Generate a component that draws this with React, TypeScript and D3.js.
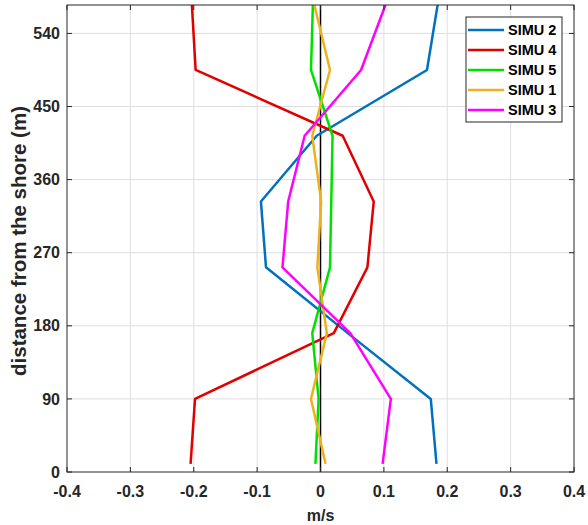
import React, { useEffect, useRef } from 'react'
import * as d3 from 'd3'

// distance from the shore (m) at which each profile is sampled
const depths = [10, 90, 171, 252, 333, 414, 495, 576]

// series names and colours, legend order
const seriesNames = ['SIMU 2', 'SIMU 4', 'SIMU 5', 'SIMU 1', 'SIMU 3']
const seriesColors = ['#0072BD', '#E00000', '#00E000', '#EDB120', '#FF00FF']

// velocities (m/s), one array per series
const simu2 = [0.183, 0.174, 0.043, -0.086, -0.094, -0.006, 0.168, 0.185]
const simu4 = [-0.205, -0.198, 0.021, 0.074, 0.084, 0.035, -0.197, -0.203]
const simu5 = [-0.008, -0.003, -0.013, 0.015, 0.017, 0.019, -0.015, -0.012]
const simu1 = [0.008, -0.015, 0.01, -0.005, 0.001, -0.013, 0.015, -0.01]
const simu3 = [0.098, 0.111, 0.047, -0.06, -0.051, -0.025, 0.064, 0.103]
const seriesValues = [simu2, simu4, simu5, simu1, simu3]

const xTicks = [-0.4, -0.3, -0.2, -0.1, 0, 0.1, 0.2, 0.3, 0.4]
const yTicks = [0, 90, 180, 270, 360, 450, 540]

const W = 588
const H = 525
const margin = { top: 5, right: 14, bottom: 53, left: 67 }
const font = 'Arial, "Liberation Sans", Helvetica, sans-serif'

export default function App() {
  const ref = useRef<SVGSVGElement>(null)

  useEffect(() => {
    const svg = d3.select(ref.current)
    svg.selectAll('*').remove()
    const width = W - margin.left - margin.right
    const height = H - margin.top - margin.bottom

    const x = d3.scaleLinear().domain([-0.4, 0.4]).range([0, width])
    const y = d3.scaleLinear().domain([0, 575]).range([height, 0])

    svg.append('rect').attr('width', W).attr('height', H).attr('fill', '#fff')

    svg.append('defs').append('clipPath').attr('id', 'plot-clip')
      .append('rect').attr('width', width).attr('height', height)

    const g = svg.append('g').attr('transform', `translate(${margin.left},${margin.top})`)

    // grid
    g.append('g').selectAll('line').data(xTicks.slice(1, -1)).join('line')
      .attr('x1', d => x(d)).attr('x2', d => x(d))
      .attr('y1', 0).attr('y2', height)
      .attr('stroke', '#dfdfdf').attr('stroke-width', 1)
    g.append('g').selectAll('line').data(yTicks.slice(1)).join('line')
      .attr('x1', 0).attr('x2', width)
      .attr('y1', d => y(d)).attr('y2', d => y(d))
      .attr('stroke', '#dfdfdf').attr('stroke-width', 1)

    // zero line
    g.append('line')
      .attr('x1', x(0)).attr('x2', x(0))
      .attr('y1', 0).attr('y2', height)
      .attr('stroke', '#000').attr('stroke-width', 1.5)

    // profiles
    const line = d3.line<number>()
      .x(d => x(d))
      .y((d, i) => y(depths[i]))

    const lines = g.append('g').attr('clip-path', 'url(#plot-clip)')
    seriesValues.forEach((vals, i) => {
      lines.append('path')
        .datum(vals)
        .attr('fill', 'none')
        .attr('stroke', seriesColors[i])
        .attr('stroke-width', 2.5)
        .attr('stroke-linejoin', 'round')
        .attr('d', line)
    })

    // axes box
    g.append('rect')
      .attr('width', width).attr('height', height)
      .attr('fill', 'none').attr('stroke', '#262626').attr('stroke-width', 1)

    // tick marks on all four sides, pointing inwards
    const tk = 5
    xTicks.forEach(t => {
      g.append('line').attr('x1', x(t)).attr('x2', x(t)).attr('y1', height).attr('y2', height - tk).attr('stroke', '#262626')
      g.append('line').attr('x1', x(t)).attr('x2', x(t)).attr('y1', 0).attr('y2', tk).attr('stroke', '#262626')
    })
    yTicks.forEach(t => {
      g.append('line').attr('x1', 0).attr('x2', tk).attr('y1', y(t)).attr('y2', y(t)).attr('stroke', '#262626')
      g.append('line').attr('x1', width).attr('x2', width - tk).attr('y1', y(t)).attr('y2', y(t)).attr('stroke', '#262626')
    })

    // tick labels
    g.append('g').selectAll('text').data(xTicks).join('text')
      .attr('x', d => x(d)).attr('y', height + 25)
      .attr('text-anchor', 'middle')
      .attr('font-family', font).attr('font-size', 16).attr('font-weight', 'bold')
      .attr('fill', '#262626')
      .text(d => (d === 0 ? '0' : String(d)))
    g.append('g').selectAll('text').data(yTicks).join('text')
      .attr('x', -7).attr('y', d => y(d)).attr('dy', '0.35em')
      .attr('text-anchor', 'end')
      .attr('font-family', font).attr('font-size', 16).attr('font-weight', 'bold')
      .attr('fill', '#262626')
      .text(d => String(d))

    // axis titles
    svg.append('text')
      .attr('x', margin.left + x(0)).attr('y', 521)
      .attr('text-anchor', 'middle')
      .attr('font-family', font).attr('font-size', 16).attr('font-weight', 'bold')
      .attr('fill', '#262626')
      .text('m/s')
    svg.append('text')
      .attr('transform', `translate(26,241) rotate(-90)`)
      .attr('text-anchor', 'middle')
      .attr('font-family', font).attr('font-size', 20.5).attr('font-weight', 'bold')
      .attr('fill', '#262626')
      .text('distance from the shore (m)')

    // legend
    const lg = svg.append('g').attr('transform', 'translate(466,17)')
    lg.append('rect')
      .attr('width', 96).attr('height', 105)
      .attr('fill', '#fff').attr('stroke', '#262626').attr('stroke-width', 1)
    seriesNames.forEach((name, i) => {
      const yy = 13 + i * 20
      lg.append('line')
        .attr('x1', 2).attr('x2', 38).attr('y1', yy).attr('y2', yy)
        .attr('stroke', seriesColors[i]).attr('stroke-width', 2.5)
      lg.append('text')
        .attr('x', 42).attr('y', yy).attr('dy', '0.35em')
        .attr('font-family', font).attr('font-size', 14.5).attr('font-weight', 'bold')
        .attr('fill', '#000')
        .text(name)
    })
  }, [])

  return (
    <svg ref={ref} width={W} height={H} style={{ position: 'absolute', left: 0, top: 0 }} />
  )
}
